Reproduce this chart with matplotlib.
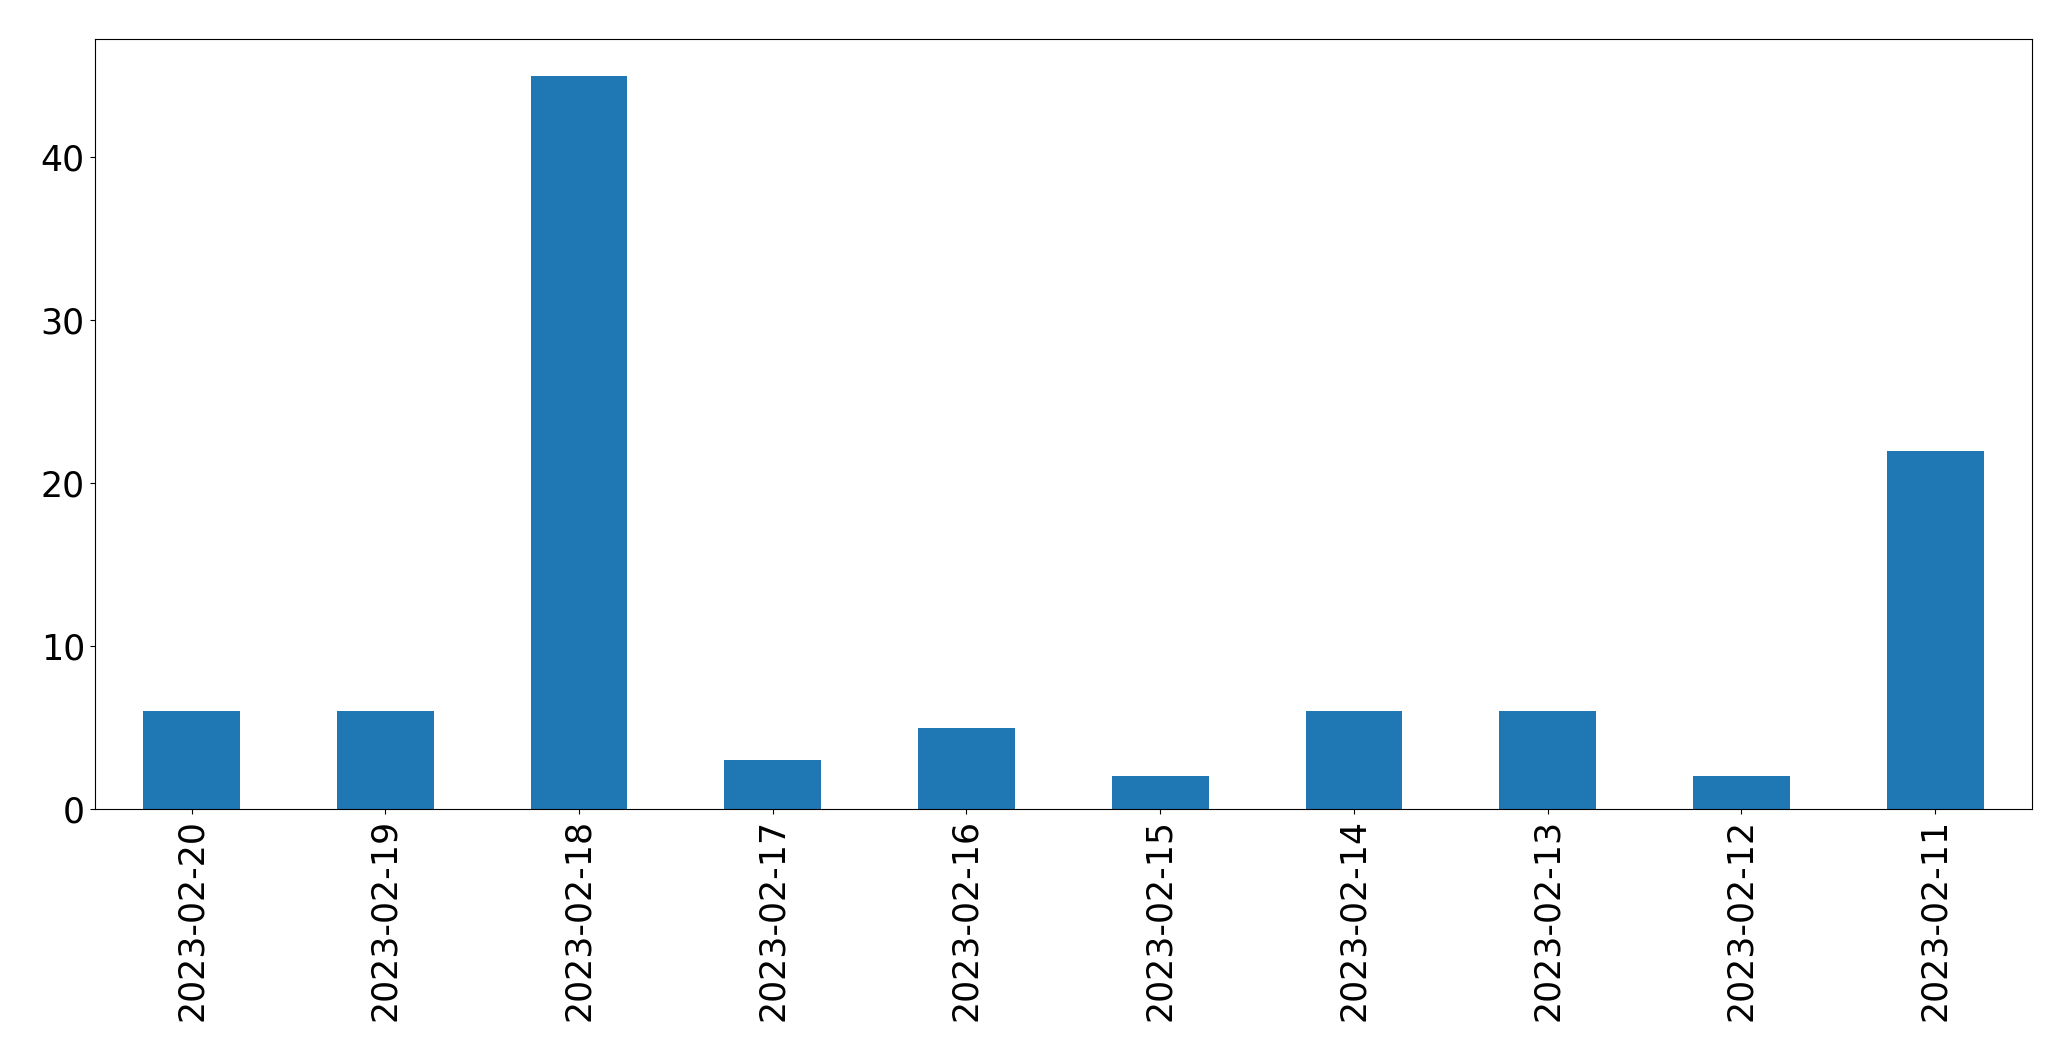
import numpy as np
import matplotlib
matplotlib.use("Agg")
import matplotlib.pyplot as plt

dates = ["2023-02-20", "2023-02-19", "2023-02-18", "2023-02-17", "2023-02-16",
         "2023-02-15", "2023-02-14", "2023-02-13", "2023-02-12", "2023-02-11"]
counts = [6, 6, 45, 3, 5, 2, 6, 6, 2, 22]

fig = plt.figure(figsize=(20.71, 10.61), dpi=100)
ax = fig.add_axes([0.0457, 0.2375, 0.9355, 0.7255])

x = np.arange(len(dates))
ax.bar(x, counts, width=0.5, color="#1f77b4")
ax.set_xlim(-0.5, len(dates) - 0.5)
ax.set_xticks(x)
ax.set_xticklabels(dates, rotation=90)
ax.set_yticks([0, 10, 20, 30, 40])
ax.tick_params(labelsize=25)

fig.savefig("out.png", dpi=100)
